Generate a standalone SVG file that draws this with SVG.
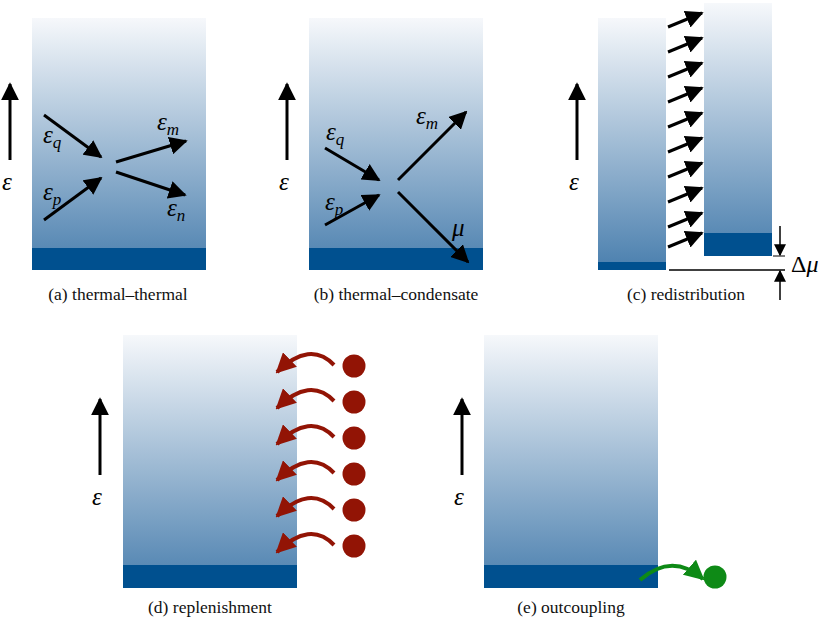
<svg xmlns="http://www.w3.org/2000/svg" width="830" height="624" viewBox="0 0 830 624">
<style>
.m{font-family:'Liberation Serif','DejaVu Serif','Times New Roman',serif;font-style:italic;font-size:25px;fill:#000}
.s{font-size:17px}
.cap{font-family:'Liberation Serif','DejaVu Serif','Times New Roman',serif;font-size:17.5px;fill:#111;text-anchor:middle}
.a{stroke:#000;stroke-width:3;fill:none;marker-end:url(#h)}
.band{fill:#00508f}
.r{stroke:#921405;stroke-width:4;fill:none;marker-end:url(#hr)}
</style>
<defs>
<linearGradient id="g" x1="0" y1="0" x2="0" y2="1"><stop offset="0" stop-color="#f6f8fb"/><stop offset="1" stop-color="#4a7fae"/></linearGradient>
<marker id="h" viewBox="0 0 10 10" refX="9" refY="5" markerWidth="6" markerHeight="6" markerUnits="strokeWidth" orient="auto"><path d="M0,0L10,5L0,10z" fill="#000"/></marker>
<marker id="hr" viewBox="0 0 10 10" refX="9" refY="5" markerWidth="5" markerHeight="5" markerUnits="strokeWidth" orient="auto"><path d="M0,0L10,5L0,10z" fill="#921405"/></marker>
<marker id="hg" viewBox="0 0 10 10" refX="9" refY="5" markerWidth="5" markerHeight="5" markerUnits="strokeWidth" orient="auto"><path d="M0,0L10,5L0,10z" fill="#0e8a16"/></marker>
<marker id="hs" viewBox="0 0 10 10" refX="9" refY="5" markerWidth="8" markerHeight="8" markerUnits="strokeWidth" orient="auto"><path d="M0,0L10,5L0,10z" fill="#000"/></marker>
</defs>
<g id="panel-a">
<rect x="32" y="18" width="174" height="252" fill="url(#g)"/><rect class="band" x="32" y="248" width="174" height="22"/>
<line class="a" x1="10" y1="160" x2="10" y2="84"/><text class="m" x="2" y="190">ε</text>
<line class="a" x1="44" y1="115" x2="101" y2="157"/><line class="a" x1="44" y1="220" x2="101" y2="178"/>
<line class="a" x1="116" y1="162" x2="186" y2="141"/><line class="a" x1="116" y1="172" x2="185" y2="195"/>
<text class="m" x="43" y="143">ε<tspan class="s" dy="5">q</tspan></text>
<text class="m" x="43" y="200">ε<tspan class="s" dy="5">p</tspan></text>
<text class="m" x="157" y="130">ε<tspan class="s" dy="5">m</tspan></text>
<text class="m" x="167" y="216">ε<tspan class="s" dy="5">n</tspan></text>
<text class="cap" x="118" y="300">(a) thermal–thermal</text>
</g>
<g id="panel-b">
<rect x="309" y="18" width="174" height="252" fill="url(#g)"/><rect class="band" x="309" y="248" width="174" height="22"/>
<line class="a" x1="287" y1="160" x2="287" y2="84"/><text class="m" x="279" y="190">ε</text>
<line class="a" x1="325" y1="148" x2="379" y2="180"/><line class="a" x1="325" y1="225" x2="379" y2="195"/>
<line class="a" x1="398" y1="180" x2="466" y2="112"/><line class="a" x1="398" y1="192" x2="468" y2="262"/>
<text class="m" x="326" y="140">ε<tspan class="s" dy="5">q</tspan></text>
<text class="m" x="325" y="210">ε<tspan class="s" dy="5">p</tspan></text>
<text class="m" x="416" y="124">ε<tspan class="s" dy="5">m</tspan></text>
<text class="m" x="452" y="236">μ</text>
<text class="cap" x="396" y="300">(b) thermal–condensate</text>
</g>
<g id="panel-c">
<rect x="598" y="18" width="68" height="252" fill="url(#g)"/><rect class="band" x="598" y="262" width="68" height="8"/>
<rect x="704" y="3" width="68" height="253" fill="url(#g)"/><rect class="band" x="704" y="233" width="68" height="23"/>
<line class="a" x1="577" y1="160" x2="577" y2="84"/><text class="m" x="569" y="190">ε</text>
<g>
<line class="a" x1="668" y1="27" x2="702" y2="13"/><line class="a" x1="668" y1="52" x2="702" y2="38"/>
<line class="a" x1="668" y1="77" x2="702" y2="63"/><line class="a" x1="668" y1="102" x2="702" y2="88"/>
<line class="a" x1="668" y1="127" x2="702" y2="113"/><line class="a" x1="668" y1="152" x2="702" y2="138"/>
<line class="a" x1="668" y1="177" x2="702" y2="163"/><line class="a" x1="668" y1="202" x2="702" y2="188"/>
<line class="a" x1="668" y1="227" x2="702" y2="213"/><line class="a" x1="668" y1="247" x2="702" y2="233"/>
</g>
<line x1="669" y1="270" x2="785" y2="270" stroke="#000" stroke-width="1.5"/>
<line x1="773" y1="256" x2="785" y2="256" stroke="#000" stroke-width="1"/>
<line x1="780" y1="226" x2="780" y2="255" stroke="#000" stroke-width="1.5" marker-end="url(#hs)"/>
<line x1="780" y1="300" x2="780" y2="271" stroke="#000" stroke-width="1.5" marker-end="url(#hs)"/>
<text x="791" y="272" font-family="'Liberation Serif','DejaVu Serif',serif" font-size="24">Δ<tspan font-style="italic">μ</tspan></text>
<text class="cap" x="686" y="300">(c) redistribution</text>
</g>
<g id="panel-d">
<rect x="123" y="335" width="174" height="253" fill="url(#g)"/><rect class="band" x="123" y="565" width="174" height="23"/>
<line class="a" x1="100" y1="475" x2="100" y2="399"/><text class="m" x="92" y="505">ε</text>
<g fill="#921405">
<circle cx="354" cy="366" r="11.5"/><circle cx="354" cy="402" r="11.5"/><circle cx="354" cy="438" r="11.5"/>
<circle cx="354" cy="474" r="11.5"/><circle cx="354" cy="510" r="11.5"/><circle cx="354" cy="546" r="11.5"/>
</g>
<path class="r" d="M334,365 Q310,340 277,372"/><path class="r" d="M334,401 Q310,376 277,408"/>
<path class="r" d="M334,437 Q310,412 277,444"/><path class="r" d="M334,473 Q310,448 277,480"/>
<path class="r" d="M334,509 Q310,484 277,516"/><path class="r" d="M334,545 Q310,520 277,552"/>
<text class="cap" x="210" y="613">(d) replenishment</text>
</g>
<g id="panel-e">
<rect x="484" y="335" width="174" height="253" fill="url(#g)"/><rect class="band" x="484" y="565" width="174" height="23"/>
<line class="a" x1="462" y1="475" x2="462" y2="399"/><text class="m" x="454" y="505">ε</text>
<path d="M640,580 Q672,552 703,579" stroke="#0e8a16" stroke-width="4" fill="none" marker-end="url(#hg)"/>
<circle cx="715" cy="577" r="11.5" fill="#0e8a16"/>
<text class="cap" x="571" y="613">(e) outcoupling</text>
</g>
</svg>
